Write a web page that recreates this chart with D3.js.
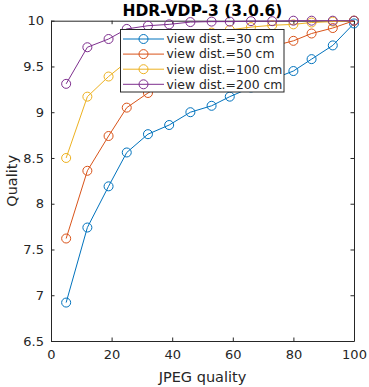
<!DOCTYPE html>
<html>
<head>
<meta charset="utf-8">
<script src="https://cdn.jsdelivr.net/npm/d3@7"></script>
<style>
  body { margin: 0; background: #fff; }
  svg { display: block; font-family: "DejaVu Sans", sans-serif; }
</style>
</head>
<body>
<div id="chart"></div>
<script>
// JPEG quality levels
const jpegQuality = [5, 12, 19, 25, 32, 39, 46, 53, 59, 66, 73, 80, 86, 93, 100];

// quality per viewing distance
const q30 = [6.92, 7.74, 8.19, 8.56, 8.76, 8.86, 9.00, 9.07, 9.17, 9.27, 9.36, 9.45, 9.58, 9.73, 9.97];
const q50 = [7.62, 8.36, 8.74, 9.05, 9.21, 9.35, 9.45, 9.53, 9.60, 9.66, 9.72, 9.78, 9.86, 9.92, 10.0];
const q100 = [8.50, 9.17, 9.39, 9.55, 9.68, 9.76, 9.82, 9.87, 9.90, 9.93, 9.95, 9.96, 9.98, 9.99, 10.0];
const q200 = [9.31, 9.71, 9.80, 9.91, 9.945, 9.96, 9.985, 9.99, 9.99, 9.995, 9.995, 10.0, 10.0, 10.0, 10.0];

const seriesNames = ["view dist.=30 cm", "view dist.=50 cm", "view dist.=100 cm", "view dist.=200 cm"];
const seriesValues = [q30, q50, q100, q200];
const colors = ["#0072BD", "#D95319", "#EDB120", "#7E2F8E"];

const xTicks = [0, 20, 40, 60, 80, 100];
const yTicks = [6.5, 7, 7.5, 8, 8.5, 9, 9.5, 10];

const width = 369, height = 387;
const margin = {top: 20.7, right: 15, bottom: 46, left: 51};

const svg = d3.select("#chart").append("svg")
  .attr("width", width)
  .attr("height", height);

const x = d3.scaleLinear().domain([0, 100]).range([margin.left, width - margin.right]);
const y = d3.scaleLinear().domain([6.5, 10]).range([height - margin.bottom, margin.top]);

const textColor = "#262626";
const tickLen = 3.5;

// axes box with inward ticks
const bottomAxis = svg.append("g")
  .attr("transform", `translate(0,${y(6.5)})`)
  .call(d3.axisBottom(x).tickValues(xTicks).tickSizeInner(-tickLen).tickSizeOuter(0).tickPadding(9));
const topAxis = svg.append("g")
  .attr("transform", `translate(0,${y(10)})`)
  .call(d3.axisTop(x).tickValues(xTicks).tickSizeInner(-tickLen).tickSizeOuter(0).tickFormat(""));
const leftAxis = svg.append("g")
  .attr("transform", `translate(${x(0)},0)`)
  .call(d3.axisLeft(y).tickValues(yTicks).tickSizeInner(-tickLen).tickSizeOuter(0).tickPadding(7).tickFormat(d3.format("")));
const rightAxis = svg.append("g")
  .attr("transform", `translate(${x(100)},0)`)
  .call(d3.axisRight(y).tickValues(yTicks).tickSizeInner(-tickLen).tickSizeOuter(0).tickFormat(""));

[bottomAxis, topAxis, leftAxis, rightAxis].forEach(g => {
  g.selectAll(".domain").attr("stroke", textColor);
  g.selectAll(".tick line").attr("stroke", textColor);
  g.selectAll(".tick text").attr("fill", textColor).style("font-size", "13px").style("font-family", "DejaVu Sans, sans-serif");
});

// series
const line = d3.line()
  .x((d, i) => x(jpegQuality[i]))
  .y(d => y(d));

seriesValues.forEach((vals, k) => {
  const g = svg.append("g");
  g.append("path")
    .datum(vals)
    .attr("fill", "none")
    .attr("stroke", colors[k])
    .attr("stroke-width", 1)
    .attr("d", line);
  g.selectAll("circle")
    .data(vals)
    .join("circle")
      .attr("cx", (d, i) => x(jpegQuality[i]))
      .attr("cy", d => y(d))
      .attr("r", 4.5)
      .attr("fill", "none")
      .attr("stroke", colors[k])
      .attr("stroke-width", 1);
});

// legend
const legend = svg.append("g");
legend.append("rect")
  .attr("x", 120.5).attr("y", 29.5)
  .attr("width", 163.5).attr("height", 62.5)
  .attr("fill", "#fff")
  .attr("stroke", textColor)
  .attr("stroke-width", 1);

seriesNames.forEach((name, k) => {
  const ly = 39 + k * 15.1;
  legend.append("line")
    .attr("x1", 123).attr("x2", 164)
    .attr("y1", ly).attr("y2", ly)
    .attr("stroke", colors[k]).attr("stroke-width", 1);
  legend.append("circle")
    .attr("cx", 143.5).attr("cy", ly).attr("r", 4.5)
    .attr("fill", "none").attr("stroke", colors[k]).attr("stroke-width", 1);
  legend.append("text")
    .attr("x", 166.5).attr("y", ly)
    .attr("dy", "0.35em")
    .attr("fill", textColor)
    .style("font-size", "12.4px")
    .text(name);
});

// title and axis labels
svg.append("text")
  .attr("x", (x(0) + x(100)) / 2).attr("y", 15.5)
  .attr("text-anchor", "middle")
  .attr("fill", "#000")
  .style("font-size", "15.5px")
  .style("font-weight", "bold")
  .text("HDR-VDP-3 (3.0.6)");

svg.append("text")
  .attr("x", (x(0) + x(100)) / 2).attr("y", 382)
  .attr("text-anchor", "middle")
  .attr("fill", textColor)
  .style("font-size", "14.5px")
  .text("JPEG quality");

svg.append("text")
  .attr("transform", `translate(17,${(y(6.5) + y(10)) / 2}) rotate(-90)`)
  .attr("text-anchor", "middle")
  .attr("fill", textColor)
  .style("font-size", "14.5px")
  .text("Quality");
</script>
</body>
</html>
